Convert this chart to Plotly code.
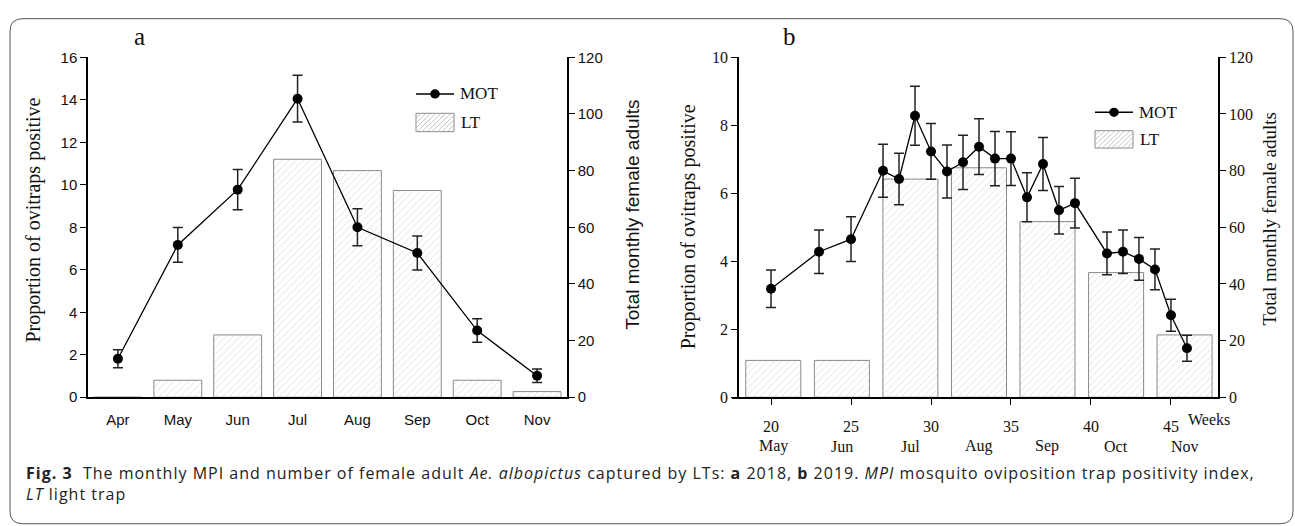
import plotly.graph_objects as go

W, H = 1295, 526

# ---------- data: panel a (2018, monthly) ----------
months_a = ["Apr", "May", "Jun", "Jul", "Aug", "Sep", "Oct", "Nov"]
mot_a = [1.81, 7.17, 9.77, 14.05, 8.0, 6.79, 3.14, 1.01]
mot_a_err = [0.42, 0.82, 0.95, 1.1, 0.87, 0.8, 0.55, 0.32]
lt_a = [0, 6, 22, 84, 80, 73, 6, 2]

# ---------- data: panel b (2019, weekly) ----------
weeks_b = [20, 23, 25, 27, 28, 29, 30, 31, 32, 33, 34, 35, 36, 37, 38, 39, 41, 42, 43, 44, 45, 46]
mot_b = [3.19, 4.28, 4.65, 6.66, 6.42, 8.28, 7.23, 6.64, 6.91, 7.37, 7.02, 7.02,
         5.88, 6.86, 5.50, 5.71, 4.23, 4.28, 4.07, 3.76, 2.41, 1.44]
mot_b_err = [0.55, 0.64, 0.66, 0.78, 0.76, 0.87, 0.82, 0.78, 0.80, 0.82, 0.80, 0.79,
             0.72, 0.78, 0.70, 0.73, 0.63, 0.64, 0.63, 0.60, 0.47, 0.38]
lt_b_pos = [20.14, 24.43, 28.71, 33.0, 37.28, 41.57, 45.85]
lt_b = [13, 13, 77, 81, 62, 44, 22]
month_b_labels = ["May", "Jun", "Jul", "Aug", "Sep", "Oct", "Nov"]
week_ticks = [20, 25, 30, 35, 40, 45]

SERIF = "Liberation Serif, Times New Roman, serif"
SANS = "Liberation Sans, Arial, sans-serif"
CAP = "Open Sans, Lato, sans-serif"

def px_x(p):
    return p / W

def px_y(p):
    return 1 - p / H

bar_pattern = dict(shape="/", fgcolor="#b0b0b0", bgcolor="white", size=5, solidity=0.15)
bar_line = dict(color="#8a8a8a", width=1)

fig = go.Figure()

# panel a
fig.add_trace(go.Bar(x=list(range(len(months_a))), y=lt_a, width=0.8, name="LT",
                     marker=dict(color="white", pattern=bar_pattern, line=bar_line),
                     xaxis="x", yaxis="y", showlegend=False))
fig.add_trace(go.Scatter(x=list(range(len(months_a))), y=mot_a, name="MOT", mode="lines+markers",
                         line=dict(color="black", width=1.3),
                         marker=dict(color="black", size=10),
                         error_y=dict(type="data", array=mot_a_err, color="#222", thickness=1.5, width=5),
                         xaxis="x", yaxis="y2", showlegend=False))

# panel b
fig.add_trace(go.Bar(x=lt_b_pos, y=lt_b, width=3.44, name="LT",
                     marker=dict(color="white", pattern=bar_pattern, line=bar_line),
                     xaxis="x2", yaxis="y3", showlegend=False))
fig.add_trace(go.Scatter(x=weeks_b, y=mot_b, name="MOT", mode="lines+markers",
                         line=dict(color="black", width=1.3),
                         marker=dict(color="black", size=10),
                         error_y=dict(type="data", array=mot_b_err, color="#222", thickness=1.5, width=5),
                         xaxis="x2", yaxis="y4", showlegend=False))

ydom = [px_y(402), px_y(50)]
axcommon = dict(showgrid=False, zeroline=False, showline=True, linecolor="black", linewidth=1.5,
                ticks="outside", ticklen=6, tickwidth=1.3, tickcolor="black")

fig.update_layout(
    width=W, height=H, autosize=False,
    margin=dict(l=0, r=0, t=0, b=0),
    paper_bgcolor="white", plot_bgcolor="rgba(0,0,0,0)",
    showlegend=False, barmode="overlay",
    xaxis=dict(domain=[px_x(88), px_x(567)], range=[-0.5, 7.5], tickvals=list(range(8)),
               ticktext=months_a, anchor="y", showgrid=False, zeroline=False, showline=True,
               linecolor="black", linewidth=1.5, ticks="", ticklabelstandoff=8,
               tickfont=dict(family=SANS, size=15, color="#111")),
    yaxis=dict(domain=ydom, range=[0, 120], dtick=20, side="right", anchor="x",
               tickfont=dict(family=SANS, size=15, color="#111"), **axcommon),
    yaxis2=dict(range=[0, 16], dtick=2, side="left", overlaying="y", anchor="x",
                tickfont=dict(family=SANS, size=15, color="#111"), **axcommon),
    xaxis2=dict(domain=[px_x(732), px_x(1218)], range=[17.56, 47.94], tickvals=week_ticks,
                anchor="y3", showgrid=False, zeroline=False, showline=True,
                linecolor="black", linewidth=1.5, ticks="outside", ticklen=6, tickwidth=1.3,
                tickcolor="black", ticklabelstandoff=8,
                tickfont=dict(family=SERIF, size=16, color="#111")),
    yaxis3=dict(domain=ydom, range=[0, 120], dtick=20, side="right", anchor="x2",
                tickfont=dict(family=SERIF, size=16, color="#111"), **axcommon),
    yaxis4=dict(range=[0, 10], dtick=2, side="left", overlaying="y3", anchor="free",
                position=px_x(738),
                tickfont=dict(family=SERIF, size=16, color="#111"), **axcommon),
)

ann = []

def add(text, x, y, size, family, xref="paper", angle=0, xanchor="center"):
    ann.append(dict(text=text, x=x, y=y, xref=xref, yref="paper", textangle=angle,
                    xanchor=xanchor, yanchor="middle", showarrow=False,
                    font=dict(family=family, size=size, color="#111")))

# axis titles
add("Proportion of ovitraps positive", px_x(34), px_y(219), 20, SERIF, angle=-90)
add("Total monthly female adults", px_x(633), px_y(213), 19, SANS, angle=-90)
add("Proportion of ovitraps positive", px_x(688), px_y(226), 20, SERIF, angle=-90)
add("Total monthly female adults", px_x(1270), px_y(218), 19, SERIF, angle=-90)
# panel letters
add("a", px_x(139), px_y(28.5), 25, SERIF)
add("b", px_x(789), px_y(28.5), 25, SERIF)
# Weeks label
add("Weeks", px_x(1209), px_y(425), 16, SERIF)
# month labels under the week axis
for lab, pos in zip(month_b_labels, lt_b_pos):
    add(lab, pos, px_y(453), 16, SERIF, xref="x2")

# ---------- legends (drawn as layout decorations) ----------
shapes = []

def legend(lx0, lx1, y_mot, ry0, ry1, tx):
    # MOT key: line with a filled circle
    shapes.append(dict(type="line", xref="paper", yref="paper", x0=px_x(lx0), x1=px_x(lx1),
                       y0=px_y(y_mot), y1=px_y(y_mot), line=dict(color="black", width=1.5)))
    cx, r = (lx0 + lx1) / 2, 4.8
    shapes.append(dict(type="circle", xref="paper", yref="paper", x0=px_x(cx - r), x1=px_x(cx + r),
                       y0=px_y(y_mot + r), y1=px_y(y_mot - r), fillcolor="black",
                       line=dict(color="black", width=0)))
    add("MOT", px_x(tx), px_y(y_mot), 17, SERIF, xanchor="left")
    # LT key: hatched rectangle
    shapes.append(dict(type="rect", xref="paper", yref="paper", x0=px_x(lx0), x1=px_x(lx1),
                       y0=px_y(ry1), y1=px_y(ry0), fillcolor="white",
                       line=dict(color="#8a8a8a", width=1)))
    segs = []
    c = lx0 + ry0 + 5
    while c < lx1 + ry1:
        xa = max(lx0, c - ry1)
        xb = min(lx1, c - ry0)
        if xb > xa:
            segs.append(f"M {px_x(xa)},{px_y(c - xa)} L {px_x(xb)},{px_y(c - xb)}")
        c += 5
    shapes.append(dict(type="path", xref="paper", yref="paper", path=" ".join(segs),
                       line=dict(color="#b5b5b5", width=0.8)))
    add("LT", px_x(tx + 1), px_y((ry0 + ry1) / 2), 17, SERIF, xanchor="left")

legend(416, 454, 88, 108, 127, 458)
legend(1095, 1133, 107, 126, 144, 1137)

# caption (two lines in one text block)
cap_style = '<span style="letter-spacing:1px">'
ann.append(dict(text=cap_style + "<b>Fig. 3</b>  The monthly MPI and number of female adult <i>Ae. albopictus</i> captured by LTs: "
                     "<b>a</b> 2018, <b>b</b> 2019. <i>MPI</i> mosquito oviposition trap positivity index,</span><br>"
                     + cap_style + "<i>LT</i> light trap</span>",
                x=px_x(24), y=px_y(491), xref="paper", yref="paper", xanchor="left", yanchor="middle",
                align="left", showarrow=False, font=dict(family=CAP, size=16, color="#222")))

# rounded frame
x0, x1, y0, y1 = px_x(10), px_x(1293), px_y(10), px_y(533)
rx, ry = 13 / W, 13 / H
path = (f"M {x0+rx},{y0} L {x1-rx},{y0} Q {x1},{y0} {x1},{y0-ry} "
        f"L {x1},{y1+ry} Q {x1},{y1} {x1-rx},{y1} L {x0+rx},{y1} Q {x0},{y1} {x0},{y1+ry} "
        f"L {x0},{y0-ry} Q {x0},{y0} {x0+rx},{y0} Z")
shapes.append(dict(type="path", path=path, xref="paper", yref="paper",
                   line=dict(color="#555", width=1), fillcolor="rgba(0,0,0,0)"))

fig.update_layout(annotations=ann, shapes=shapes)

fig.write_html("out.html")
